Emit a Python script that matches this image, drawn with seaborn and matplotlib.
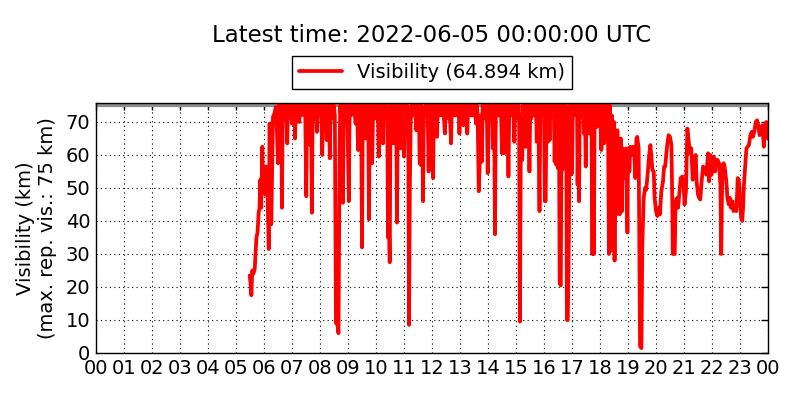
import matplotlib
matplotlib.use("Agg")
import numpy as np
import pandas as pd
import matplotlib.pyplot as plt
import matplotlib.dates as mdates
import seaborn as sns

# ---------------- data ----------------
DAY_START = "2022-06-04 00:00:00"
DAY_END = "2022-06-05 00:00:00"
MAX_VIS = 75
TITLE = "Latest time: 2022-06-05 00:00:00 UTC"
LABEL = "Visibility (64.894 km)"
YLABEL = "Visibility (km)\n(max. rep. vis.: 75 km)"
YTICKS = [0, 10, 20, 30, 40, 50, 60, 70]

# (hour of day, visibility in km)
early = [
    (5.49, 23.5), (5.52, 21), (5.55, 17.5), (5.58, 25), (5.62, 24), (5.67, 25.5), (5.69, 29),
    (5.73, 35), (5.77, 36.5), (5.81, 42.5), (5.84, 44), (5.87, 52.5), (5.90, 44), (5.94, 62.5),
    (5.97, 49.5), (6.02, 56.5), (6.05, 48), (6.09, 56.5), (6.12, 50), (6.17, 31.5), (6.20, 69.5),
    (6.26, 39), (6.32, 71.5), (6.37, 72.5), (6.42, 74.5), (6.45, 70),
]
h06 = [
    (6.50, 57.5), (6.53, 75), (6.56, 72), (6.59, 75), (6.62, 71), (6.64, 44), (6.67, 75), (6.70, 71),
    (6.73, 75), (6.76, 72), (6.79, 75), (6.83, 63.5), (6.86, 75), (6.89, 72), (6.92, 75), (6.95, 71),
    (6.98, 75),
]
h07 = [
    (7.00, 69.5), (7.03, 75), (7.06, 72), (7.08, 75), (7.11, 65), (7.14, 75), (7.17, 71), (7.20, 75),
    (7.23, 72), (7.26, 70), (7.29, 75), (7.32, 72), (7.35, 75), (7.38, 73), (7.41, 75), (7.44, 72),
    (7.47, 75), (7.51, 47.5), (7.54, 75), (7.57, 72), (7.60, 75), (7.63, 71), (7.66, 63), (7.68, 75),
    (7.71, 42.5), (7.74, 75), (7.77, 72), (7.80, 75), (7.83, 71), (7.86, 75), (7.89, 67), (7.92, 75),
    (7.95, 72), (7.98, 75),
]
h08 = [
    (8.01, 72), (8.04, 75), (8.08, 60), (8.11, 75), (8.14, 71), (8.17, 75), (8.20, 72), (8.24, 64.5),
    (8.27, 75), (8.30, 72), (8.32, 75), (8.35, 59), (8.38, 75), (8.41, 72), (8.44, 75), (8.47, 71),
    (8.50, 75), (8.53, 72), (8.57, 9), (8.61, 9.5), (8.66, 6), (8.70, 60), (8.72, 75), (8.75, 72),
    (8.78, 75), (8.82, 45.5), (8.85, 75), (8.88, 72), (8.91, 75), (8.94, 72), (8.97, 75),
]
h09 = [
    (9.03, 46), (9.06, 75), (9.09, 72), (9.12, 75), (9.15, 73), (9.18, 75), (9.21, 72), (9.24, 75),
    (9.27, 69.5), (9.30, 75), (9.33, 72), (9.36, 61.5), (9.39, 75), (9.42, 72), (9.45, 70), (9.47, 75),
    (9.50, 32), (9.53, 75), (9.56, 72), (9.59, 75), (9.63, 65), (9.66, 75), (9.69, 72), (9.72, 75),
    (9.75, 40.5), (9.78, 75), (9.81, 72), (9.83, 75), (9.86, 57.5), (9.89, 70), (9.92, 75), (9.95, 72),
    (9.98, 75),
]
h10 = [
    (10.01, 71), (10.04, 75), (10.07, 72), (10.10, 59.5), (10.13, 75), (10.16, 72), (10.19, 75),
    (10.22, 72), (10.25, 63.5), (10.28, 75), (10.31, 72), (10.34, 75), (10.37, 72), (10.40, 75),
    (10.43, 35), (10.46, 40), (10.49, 27.5), (10.52, 75), (10.55, 72), (10.58, 75), (10.61, 72),
    (10.63, 63.5), (10.66, 75), (10.69, 72), (10.72, 75), (10.75, 39.5), (10.78, 75), (10.81, 72),
    (10.84, 75), (10.88, 62), (10.91, 75), (10.94, 73), (10.97, 75),
]
h11 = [
    (11.00, 59.5), (11.03, 70), (11.06, 75), (11.09, 72), (11.12, 75), (11.15, 72), (11.18, 8.5),
    (11.21, 51), (11.24, 70), (11.27, 75), (11.30, 72), (11.33, 75), (11.36, 72), (11.40, 75),
    (11.44, 67.5), (11.47, 75), (11.50, 72), (11.53, 75), (11.56, 57.5), (11.60, 57), (11.62, 75),
    (11.65, 72), (11.68, 46), (11.71, 74), (11.74, 72), (11.77, 75), (11.80, 72), (11.84, 75),
    (11.88, 55), (11.91, 75), (11.94, 73), (11.97, 75),
]
h12 = [
    (12.01, 72), (12.04, 53), (12.07, 75), (12.10, 72), (12.13, 75), (12.15, 72), (12.18, 65.5),
    (12.21, 75), (12.24, 72), (12.27, 75), (12.30, 72), (12.33, 75), (12.36, 72), (12.39, 75),
    (12.42, 72), (12.46, 66.5), (12.49, 75), (12.52, 72), (12.55, 75), (12.58, 71), (12.61, 75),
    (12.64, 72), (12.68, 63.5), (12.71, 75), (12.74, 73), (12.77, 75), (12.80, 72), (12.83, 75),
    (12.86, 72), (12.89, 75), (12.92, 72), (12.95, 75), (12.98, 66.5),
]
h13 = [
    (13.01, 75), (13.04, 72), (13.07, 75), (13.10, 72), (13.12, 69), (13.15, 75), (13.18, 72),
    (13.21, 75), (13.23, 73), (13.26, 66.5), (13.29, 75), (13.32, 73), (13.35, 75), (13.38, 72),
    (13.41, 75), (13.44, 72), (13.47, 75), (13.50, 72), (13.53, 75), (13.57, 69.5), (13.60, 75),
    (13.63, 72), (13.67, 49), (13.71, 59), (13.74, 72), (13.78, 58), (13.81, 75), (13.84, 72),
    (13.87, 75), (13.90, 71), (13.93, 75), (13.96, 72), (13.99, 54.5),
]
h14 = [
    (14.02, 75), (14.05, 72), (14.08, 75), (14.11, 73), (14.14, 75), (14.17, 62), (14.20, 75),
    (14.22, 72), (14.25, 36), (14.28, 75), (14.31, 72.5), (14.34, 75), (14.37, 72), (14.40, 75),
    (14.43, 72), (14.46, 75), (14.50, 60.5), (14.53, 75), (14.56, 72), (14.58, 60.5), (14.61, 75),
    (14.64, 73), (14.67, 75), (14.70, 72), (14.73, 53.5), (14.76, 75), (14.79, 72), (14.82, 75),
    (14.85, 72), (14.88, 75), (14.91, 72), (14.94, 64), (14.97, 75),
]
h15 = [
    (15.00, 72), (15.03, 75), (15.06, 71), (15.09, 75), (15.11, 72), (15.14, 9.5), (15.17, 59),
    (15.19, 72), (15.22, 58.5), (15.25, 75), (15.28, 72), (15.30, 62.5), (15.33, 75), (15.36, 62.5),
    (15.39, 75), (15.42, 72), (15.45, 75), (15.48, 55), (15.51, 75), (15.54, 71), (15.57, 75),
    (15.60, 72), (15.63, 75), (15.66, 72), (15.69, 75), (15.72, 72), (15.74, 64), (15.77, 75),
    (15.80, 72), (15.84, 43), (15.87, 75), (15.90, 72), (15.93, 75), (15.96, 72),
]
h16 = [
    (16.00, 75), (16.03, 46), (16.06, 46), (16.09, 75), (16.11, 72), (16.14, 64), (16.17, 75),
    (16.20, 64.5), (16.23, 75), (16.26, 72), (16.29, 75), (16.32, 72), (16.35, 75), (16.38, 58),
    (16.41, 75), (16.44, 57), (16.47, 75), (16.50, 56), (16.53, 75), (16.56, 21), (16.60, 20.5),
    (16.63, 75), (16.65, 55.5), (16.68, 75), (16.70, 56), (16.73, 75), (16.77, 56), (16.79, 75),
    (16.82, 10), (16.85, 10), (16.89, 37), (16.92, 75), (16.94, 54), (16.97, 75),
]
h17 = [
    (17.00, 54.5), (17.03, 75), (17.06, 72), (17.09, 75), (17.12, 73), (17.15, 75), (17.18, 72),
    (17.20, 51), (17.23, 75), (17.25, 46), (17.28, 75), (17.31, 72), (17.34, 75), (17.37, 72),
    (17.40, 75), (17.43, 66.5), (17.46, 75), (17.49, 56.5), (17.52, 75), (17.55, 72), (17.58, 75),
    (17.60, 66.5), (17.63, 75), (17.66, 68), (17.69, 75), (17.73, 30), (17.76, 75), (17.78, 30),
    (17.81, 75), (17.83, 69), (17.86, 75), (17.89, 68.5), (17.92, 75), (17.95, 72), (17.98, 75),
]
h18 = [
    (18.01, 72), (18.05, 61.5), (18.08, 75), (18.11, 73), (18.13, 75), (18.15, 63.5), (18.18, 75),
    (18.20, 73), (18.23, 71), (18.26, 75), (18.29, 63.5), (18.32, 30), (18.35, 75), (18.37, 68),
    (18.40, 31), (18.42, 72), (18.44, 67), (18.48, 35), (18.50, 70), (18.52, 28), (18.55, 67),
    (18.58, 42), (18.62, 67.5), (18.65, 47), (18.68, 57), (18.70, 42), (18.74, 65), (18.79, 43),
    (18.82, 62), (18.86, 53), (18.90, 57), (18.94, 62), (18.98, 36.5),
]
h19 = [
    (19.00, 62), (19.05, 55), (19.08, 62.5), (19.14, 60), (19.18, 62.5), (19.22, 62), (19.26, 53),
    (19.30, 65), (19.33, 65.5), (19.38, 62), (19.43, 2), (19.48, 1.5), (19.51, 32), (19.56, 47),
    (19.61, 50), (19.65, 49.5), (19.70, 54), (19.75, 59.5), (19.80, 63), (19.83, 60), (19.87, 55.5),
    (19.92, 55), (19.95, 47),
]
h20 = [
    (20.00, 43), (20.05, 41.5), (20.10, 44), (20.14, 42), (20.19, 49), (20.25, 52), (20.29, 56.5),
    (20.33, 56.5), (20.36, 59.5), (20.40, 63), (20.45, 66), (20.50, 65.5), (20.55, 63), (20.58, 47),
    (20.60, 30), (20.67, 30), (20.70, 46), (20.75, 47), (20.79, 44), (20.83, 48), (20.88, 53),
    (20.94, 53.5), (20.99, 50),
]
h21 = [
    (21.02, 45), (21.07, 49), (21.12, 68), (21.17, 64), (21.22, 60.5), (21.26, 62), (21.31, 52.5),
    (21.35, 53), (21.38, 59), (21.42, 60), (21.45, 52), (21.50, 48), (21.54, 47), (21.58, 46.5),
    (21.63, 52), (21.68, 56.5), (21.74, 56), (21.80, 54), (21.86, 60.5), (21.90, 52), (21.94, 60),
    (21.98, 54),
]
h22 = [
    (22.01, 57), (22.06, 59.5), (22.11, 55), (22.15, 58.5), (22.20, 58.5), (22.25, 57.5), (22.30, 51),
    (22.33, 30), (22.37, 57), (22.42, 57.5), (22.46, 56), (22.51, 52), (22.55, 47), (22.60, 45),
    (22.64, 47), (22.68, 44), (22.73, 46), (22.77, 43), (22.82, 44), (22.87, 43), (22.92, 53),
    (22.96, 52),
]
h23 = [
    (23.00, 47), (23.04, 41), (23.08, 40), (23.11, 44), (23.14, 51), (23.18, 56), (23.23, 62),
    (23.27, 62.5), (23.32, 63), (23.37, 66), (23.42, 67), (23.46, 65.5), (23.51, 67), (23.56, 70),
    (23.61, 70.5), (23.65, 69), (23.70, 66), (23.75, 67.5), (23.80, 69), (23.85, 62.5), (23.89, 69),
    (23.94, 70), (23.98, 67), (24.00, 64.894),
]

segments = [early, h06, h07, h08, h09, h10, h11, h12, h13, h14, h15, h16, h17,
            h18, h19, h20, h21, h22, h23]
hours = [h for seg in segments for h, _ in seg]
visibility = [v for seg in segments for _, v in seg]

# ---------------- frame ----------------
start = pd.Timestamp(DAY_START)
end = pd.Timestamp(DAY_END)
df = pd.DataFrame({
    "time": start + pd.to_timedelta(np.array(hours), unit="h"),
    "vis": visibility,
})

sns.set_style("white")
plt.rcParams["font.family"] = ["DejaVu Sans"]
plt.rcParams["text.color"] = "black"
plt.rcParams["axes.labelcolor"] = "black"
plt.rcParams["xtick.color"] = "black"
plt.rcParams["ytick.color"] = "black"

fig = plt.figure(figsize=(8, 4), dpi=100)
ax = fig.add_axes([0.12, 0.1175, 0.84, 0.625])

ax.axhline(MAX_VIS, color="0.55", lw=3, zorder=1.5)
sns.lineplot(data=df, x="time", y="vis", color="red", lw=2.7, ax=ax,
             estimator=None, sort=False, label=LABEL, zorder=2)

ax.set_xlim(start, end)
ax.set_ylim(0, MAX_VIS * 1.01)
ax.set_yticks(YTICKS)
ax.xaxis.set_major_locator(mdates.HourLocator(interval=1))
ax.xaxis.set_major_formatter(mdates.DateFormatter("%H"))

ax.grid(True, linestyle=(0, (1, 3)), color="black", lw=0.8)
ax.set_axisbelow(True)
ax.tick_params(direction="in", top=True, right=True, length=5, width=1,
               labelsize=14, colors="black", pad=4)
for s in ax.spines.values():
    s.set_color("black")
    s.set_linewidth(1)
    s.set_visible(True)

ax.set_xlabel("")
ax.set_ylabel(YLABEL, fontsize=14, labelpad=6, color="black")

leg = ax.legend(loc="lower center", bbox_to_anchor=(0.5, 1.056), frameon=True,
                fancybox=False, edgecolor="black", framealpha=1, fontsize=14,
                handlelength=2.2, borderpad=0.35, borderaxespad=0)
leg.get_frame().set_linewidth(1)
for t in leg.get_texts():
    t.set_color("black")

fig.text(0.54, 0.9125, TITLE, ha="center", va="center", fontsize=16.5, color="black")

fig.savefig("out.png", dpi=100, facecolor="white")
